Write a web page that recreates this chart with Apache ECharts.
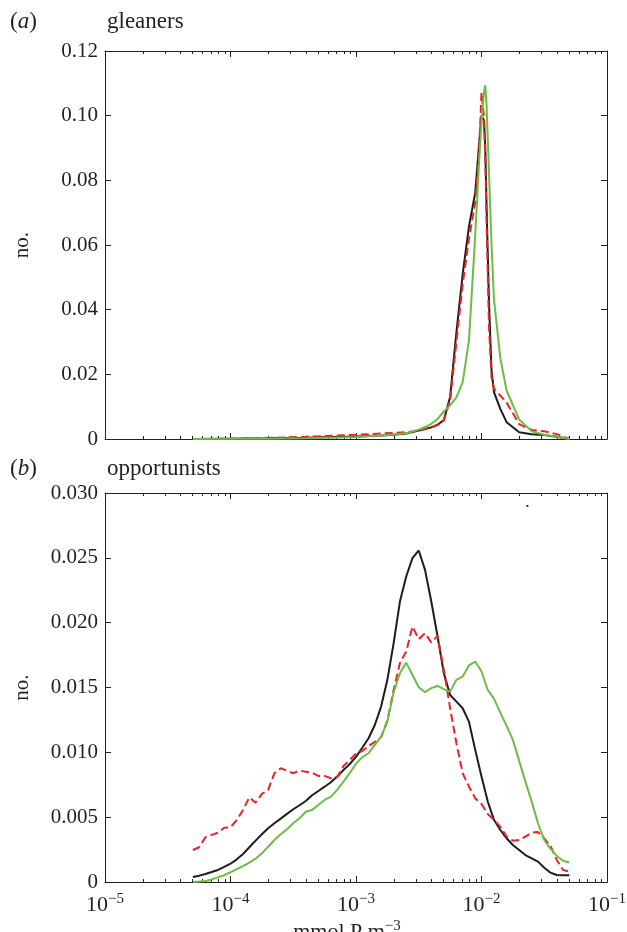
<!DOCTYPE html>
<html><head><meta charset="utf-8">
<script src="https://cdn.jsdelivr.net/npm/echarts@6/dist/echarts.min.js"></script>
<style>html,body{margin:0;padding:0;background:#fff}#c{width:627px;height:932px}</style>
</head><body><div id="c"></div>
<script>
// ---- panel (a) gleaners: x as log10(mmol P m^-3) ----
const topExp   = [-4.3,-4.0,-3.7,-3.4,-3.2,-3.0,-2.8,-2.7,-2.6,-2.5,-2.45,-2.4,-2.35,-2.3,-2.25,-2.2,-2.15,-2.1,-2.05,-2.02,-2.0,-1.98,-1.97,-1.96,-1.94,-1.92,-1.9,-1.85,-1.8,-1.7,-1.6,-1.5,-1.4,-1.3];
const topBlack = [0,0.0001,0.0002,0.0004,0.0006,0.0008,0.0011,0.0013,0.0017,0.0026,0.0031,0.0036,0.0044,0.0059,0.0130,0.0330,0.0510,0.0657,0.0762,0.0907,0.1000,0.0985,0.0900,0.0727,0.0418,0.0211,0.0144,0.0093,0.0052,0.0021,0.0015,0.0012,0.0007,0];
const topRed   = [0,0.0001,0.0003,0.0007,0.0010,0.0013,0.0017,0.0019,0.0021,0.0026,0.0031,0.0036,0.0043,0.0057,0.0120,0.0300,0.0479,0.0619,0.0732,0.0881,0.1072,0.0995,0.0870,0.0675,0.0343,0.0191,0.0155,0.0134,0.0113,0.0046,0.0028,0.0024,0.0015,0];
const topGreen = [0,0.0001,0.0001,0.0002,0.0004,0.0006,0.0011,0.0014,0.0018,0.0029,0.0037,0.0047,0.0062,0.0085,0.0104,0.0129,0.0176,0.0305,0.0630,0.0850,0.0979,0.1072,0.1094,0.1036,0.0820,0.0600,0.0430,0.0250,0.0150,0.0060,0.0024,0.0013,0.0007,0];

// ---- panel (b) opportunists ----
const botExp = [-4.30,-4.25,-4.20,-4.15,-4.10,-4.05,-4.00,-3.95,-3.90,-3.85,-3.80,-3.75,-3.70,-3.65,-3.60,-3.55,-3.50,-3.45,-3.40,-3.35,-3.30,-3.25,-3.20,-3.15,-3.10,-3.05,-3.00,-2.95,-2.90,-2.85,-2.80,-2.75,-2.70,-2.65,-2.60,-2.55,-2.50,-2.45,-2.40,-2.35,-2.30,-2.25,-2.20,-2.15,-2.10,-2.05,-2.00,-1.95,-1.90,-1.85,-1.80,-1.75,-1.70,-1.65,-1.60,-1.55,-1.50,-1.45,-1.40,-1.35,-1.30];
const botBlack = [0.00039,0.00049,0.00062,0.00077,0.00093,0.00116,0.00141,0.00175,0.00216,0.00268,0.00319,0.00368,0.00414,0.00453,0.00489,0.00525,0.00561,0.00592,0.00625,0.00669,0.00702,0.00735,0.00769,0.00813,0.00864,0.00910,0.00965,0.01035,0.01109,0.01211,0.01353,0.01559,0.01842,0.02163,0.02356,0.02498,0.02557,0.02407,0.02163,0.01893,0.01610,0.01443,0.01391,0.01340,0.01237,0.01019,0.00813,0.00620,0.00478,0.00401,0.00337,0.00285,0.00247,0.00208,0.00183,0.00157,0.00110,0.00072,0.00054,0.00052,0.00052];
const botRed   = [0.00247,0.00268,0.00345,0.00363,0.00380,0.00419,0.00422,0.00478,0.00556,0.00653,0.00612,0.00679,0.00710,0.00839,0.00877,0.00859,0.00839,0.00859,0.00851,0.00843,0.00818,0.00818,0.00800,0.00808,0.00895,0.00941,0.00990,0.01010,0.01049,0.01080,0.01116,0.01245,0.01481,0.01688,0.01777,0.01970,0.01873,0.01919,0.01847,0.01898,0.01636,0.01340,0.01070,0.00839,0.00736,0.00646,0.00602,0.00525,0.00478,0.00427,0.00350,0.00319,0.00324,0.00350,0.00380,0.00386,0.00337,0.00278,0.00170,0.00093,0.00080];
const botGreen = [0.0,0.00003,0.00008,0.00020,0.00036,0.00052,0.00075,0.00100,0.00123,0.00149,0.00180,0.00221,0.00272,0.00324,0.00368,0.00407,0.00453,0.00491,0.00542,0.00556,0.00594,0.00633,0.00658,0.00710,0.00774,0.00839,0.00913,0.00963,0.00993,0.01057,0.01121,0.01237,0.01461,0.01610,0.01692,0.01597,0.01502,0.01464,0.01495,0.01512,0.01487,0.01468,0.01559,0.01584,0.01670,0.01700,0.01623,0.01481,0.01412,0.01306,0.01204,0.01096,0.00936,0.00774,0.00620,0.00453,0.00324,0.00255,0.00201,0.00164,0.00150];
// stray dot in panel (b)
const dotX = [0.0232];
const dotY = [0.0290];

// ---- axis ticks ----
const xMajorExp = [-5,-4,-3,-2,-1];
const xMinorMult = [2,3,4,5,6,7,8,9];
const yTopTicks = [0,0.02,0.04,0.06,0.08,0.10,0.12];
const yBotTicks = [0,0.005,0.010,0.015,0.020,0.025,0.030];

const FONT = 'Liberation Serif';
const INK = '#231f20';
const BLACK = '#1d1d1b', RED = '#ec2227', GREEN = '#6bbd45';

const xMajor = xMajorExp.map(e => Math.pow(10, e));
const xMinor = [];
xMajorExp.slice(0, -1).forEach(e => xMinorMult.forEach(m => xMinor.push(m * Math.pow(10, e))));

const pairs = (xs, ys) => xs.map((e, i) => [Math.pow(10, e), ys[i]]);

const supRich = {
  b: {fontFamily: FONT, fontSize: 22, color: INK, lineHeight: 26},
  s: {fontFamily: FONT, fontSize: 15, color: INK, verticalAlign: 'top', lineHeight: 15}
};

function xAx(gi, pos, vals, len, showLine, labels) {
  const a = {
    type: 'log', logBase: 10, gridIndex: gi, position: pos, min: 1e-5, max: 1e-1,
    axisLine: {show: showLine, onZero: false, lineStyle: {color: INK, width: 1}},
    axisTick: {show: true, inside: true, length: len, customValues: vals, lineStyle: {color: INK, width: 1}},
    axisLabel: {show: false},
    splitLine: {show: false}, minorTick: {show: false}, minorSplitLine: {show: false}
  };
  if (labels) {
    a.axisLabel = {
      show: true, customValues: xMajor, margin: 10,
      formatter: v => '{b|10}{s|\u2212' + Math.abs(Math.round(Math.log10(v))) + '}',
      rich: supRich
    };
    a.name = '{b|mmol P m}{s|\u22123}';
    a.nameLocation = 'middle';
    a.nameGap = 37;
    a.nameTextStyle = {rich: supRich, padding: [0, 18, 0, 0]};
  }
  return a;
}
function yAx(gi, pos, max, interval, ticks, dec, labels) {
  const a = {
    type: 'value', gridIndex: gi, position: pos, min: 0, max: max, interval: interval,
    axisLine: {show: true, onZero: false, lineStyle: {color: INK, width: 1}},
    axisTick: {show: true, inside: true, length: 6, customValues: ticks, lineStyle: {color: INK, width: 1}},
    axisLabel: {show: false},
    splitLine: {show: false}
  };
  if (labels) {
    a.axisLabel = {
      show: true, customValues: ticks, margin: 7, fontFamily: FONT, fontSize: 21, color: INK,
      formatter: v => (v === 0 ? '0' : v.toFixed(dec))
    };
    a.name = 'no.';
    a.nameLocation = 'middle';
    a.nameRotate = 90;
    a.nameGap = 72;
    a.nameTextStyle = {fontFamily: FONT, fontSize: 21, color: INK};
  }
  return a;
}

const titleStyle = {fontFamily: FONT, fontSize: 23, fontWeight: 'normal', color: INK,
  rich: {i: {fontFamily: FONT, fontSize: 23, fontStyle: 'italic', color: INK}}};

function line(name, data, xi, yi, color, dashed) {
  return {
    name: name, type: 'line', xAxisIndex: xi, yAxisIndex: yi, data: data,
    showSymbol: false, symbol: 'none', smooth: false, animation: false,
    lineStyle: {color: color, width: 2, type: dashed ? [8, 4] : 'solid'}
  };
}

const chart = echarts.init(document.getElementById('c'), null, {renderer: 'canvas'});
chart.setOption({
  backgroundColor: '#ffffff',
  animation: false,
  title: [
    {text: '({i|a})', left: 10, top: 10, padding: 0, textStyle: titleStyle},
    {text: 'gleaners', left: 107, top: 10, padding: 0, textStyle: titleStyle},
    {text: '({i|b})', left: 10, top: 457, padding: 0, textStyle: titleStyle},
    {text: 'opportunists', left: 107, top: 457, padding: 0, textStyle: titleStyle}
  ],
  grid: [
    {left: 105, width: 502, top: 51, height: 388, containLabel: false, outerBoundsMode: 'none'},
    {left: 105, width: 502, top: 493, height: 389, containLabel: false, outerBoundsMode: 'none'}
  ],
  xAxis: [
    xAx(0, 'bottom', xMajor, 6, true, false),
    xAx(0, 'top', xMajor, 6, true, false),
    xAx(0, 'bottom', xMinor, 3, false, false),
    xAx(0, 'top', xMinor, 3, false, false),
    xAx(1, 'bottom', xMajor, 6, true, true),
    xAx(1, 'top', xMajor, 6, true, false),
    xAx(1, 'bottom', xMinor, 3, false, false),
    xAx(1, 'top', xMinor, 3, false, false)
  ],
  yAxis: [
    yAx(0, 'left', 0.12, 0.02, yTopTicks, 2, true),
    yAx(0, 'right', 0.12, 0.02, yTopTicks, 2, false),
    yAx(1, 'left', 0.03, 0.005, yBotTicks, 3, true),
    yAx(1, 'right', 0.03, 0.005, yBotTicks, 3, false)
  ],
  series: [
    line('a-black', pairs(topExp, topBlack), 0, 0, BLACK, false),
    line('a-red', pairs(topExp, topRed), 0, 0, RED, true),
    line('a-green', pairs(topExp, topGreen), 0, 0, GREEN, false),
    line('b-black', pairs(botExp, botBlack), 4, 2, BLACK, false),
    line('b-red', pairs(botExp, botRed), 4, 2, RED, true),
    line('b-green', pairs(botExp, botGreen), 4, 2, GREEN, false),
    {type: 'scatter', xAxisIndex: 4, yAxisIndex: 2, symbol: 'rect', symbolSize: 2,
     itemStyle: {color: '#000'}, data: dotX.map((x, i) => [x, dotY[i]]), animation: false}
  ]
});
</script></body></html>
